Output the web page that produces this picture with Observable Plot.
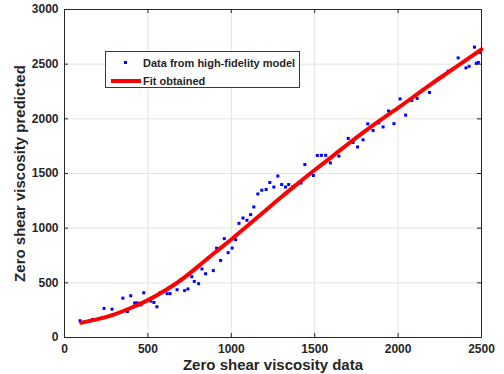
<!DOCTYPE html>
<html>
<head>
<meta charset="utf-8">
<script src="https://cdn.jsdelivr.net/npm/d3@7"></script>
<script src="https://cdn.jsdelivr.net/npm/@observablehq/plot@0.6"></script>
<style>
  html, body { margin: 0; padding: 0; background: #fff; }
  #wrap { position: relative; width: 504px; height: 374px; }
  #legend { position: absolute; left: 105px; top: 51px; width: 195px; height: 37px;
    border: 1px solid #3a3a3a; background: #fff; box-sizing: border-box;
    font-family: "Liberation Sans", Arial, sans-serif; font-weight: bold; font-size: 11px; color: #262626; }
  #legend .row { position: absolute; left: 0; width: 100%; height: 14px; }
  #legend .lbl { position: absolute; left: 37px; top: 0; line-height: 14px; white-space: nowrap; }
  #legend .sq { position: absolute; left: 18px; top: 5px; width: 3px; height: 3px; background: #0000ff; }
  #legend .ln { position: absolute; left: 5px; top: 5px; width: 30px; height: 4px; background: #ff0000; }
</style>
</head>
<body>
<div id="wrap">
  <div id="chart"></div>
  <div id="legend">
    <div class="row" style="top:4px"><div class="sq"></div><div class="lbl">Data from high-fidelity model</div></div>
    <div class="row" style="top:22px"><div class="ln"></div><div class="lbl">Fit obtained</div></div>
  </div>
</div>
<script>
// Scatter data
const dataX = [93,169,237,285,350,377,397,421,437,458,475,517,536,554,573,615,633,656,675,697,720,740,763,778,804,824,846,892,912,936,958,981,1005,1026,1046,1070,1094,1116,1135,1159,1183,1209,1231,1255,1279,1302,1325,1344,1368,1418,1441,1492,1516,1540,1566,1594,1645,1701,1730,1757,1790,1818,1850,1884,1910,1943,1975,2012,2045,2082,2114,2150,2188,2267,2301,2360,2407,2426,2458,2469,2481,2493];
const dataY = [153,165,266,259,360,238,382,316,316,298,409,333,321,281,409,401,401,483,437,529,429,444,556,513,492,627,583,612,817,705,904,776,818,895,1044,1093,1072,1124,1194,1313,1347,1354,1418,1376,1477,1399,1376,1399,1377,1413,1582,1482,1665,1666,1666,1597,1659,1821,1784,1743,1808,1954,1893,1963,1926,2072,1956,2182,2034,2168,2187,2267,2241,2388,2437,2557,2466,2480,2656,2507,2516,2606];

// Fitted curve
const fitX = [100,200,300,400,500,600,700,800,900,1000,1100,1200,1300,1400,1500,1600,1700,1800,1900,2000,2100,2200,2300,2400,2500];
const fitY = [135,168,212,272,342,428,528,648,775,897,1025,1155,1285,1410,1532,1650,1770,1885,1995,2100,2210,2320,2425,2530,2635];

const xTicks = [0,500,1000,1500,2000,2500];
const yTicks = [0,500,1000,1500,2000,2500,3000];

const xLabel = "Zero shear viscosity data";
const yLabel = "Zero shear viscosity predicted";

const pts = dataX.map((x, i) => ({x, y: dataY[i]}));
const fit = fitX.map((x, i) => ({x, y: fitY[i]}));

const W = 504, H = 374, mL = 64, mR = 23, mT = 9, mB = 37;
const iW = W - mL - mR, iH = H - mT - mB;
const ink = "#262626";
const fmt = d => String(d);

const chart = Plot.plot({
  width: W, height: H,
  marginLeft: mL, marginRight: mR, marginTop: mT, marginBottom: mB,
  style: { fontFamily: "'Liberation Sans', Arial, sans-serif", fontWeight: "bold", fontSize: "12px", color: ink, background: "#fff" },
  x: { domain: [0, 2500], ticks: xTicks },
  y: { domain: [0, 3000], ticks: yTicks },
  marks: [
    Plot.gridX(xTicks, { stroke: "#e3e3e3", strokeOpacity: 1 }),
    Plot.gridY(yTicks, { stroke: "#e3e3e3", strokeOpacity: 1 }),
    Plot.dot(pts, { x: "x", y: "y", symbol: "square", r: 1.7, fill: "#0000ff", stroke: "none" }),
    Plot.line(fit, { x: "x", y: "y", stroke: "#ff0000", strokeWidth: 4, curve: "natural" }),
    Plot.tickX(xTicks, { x: d => d, stroke: ink, insetTop: iH - 4 }),
    Plot.tickX(xTicks, { x: d => d, stroke: ink, insetBottom: iH - 4 }),
    Plot.tickY(yTicks, { y: d => d, stroke: ink, insetRight: iW - 4 }),
    Plot.tickY(yTicks, { y: d => d, stroke: ink, insetLeft: iW - 4 }),
    Plot.frame({ stroke: ink }),
    Plot.axisX(xTicks, { tickSize: 0, tickPadding: 7, label: null, fill: ink, fontSize: 12, tickFormat: fmt }),
    Plot.axisY(yTicks, { tickSize: 0, tickPadding: 6, label: null, fill: ink, fontSize: 12, tickFormat: fmt }),
    Plot.text([xLabel], { frameAnchor: "bottom", dy: 28, text: d => d, fontSize: 15, fontWeight: "bold", fill: ink, lineAnchor: "middle" }),
    Plot.text([yLabel], { frameAnchor: "left", dx: -44, rotate: -90, text: d => d, fontSize: 15, fontWeight: "bold", fill: ink, textAnchor: "middle", lineAnchor: "middle" })
  ]
});
document.getElementById("chart").appendChild(chart);
</script>
</body>
</html>
